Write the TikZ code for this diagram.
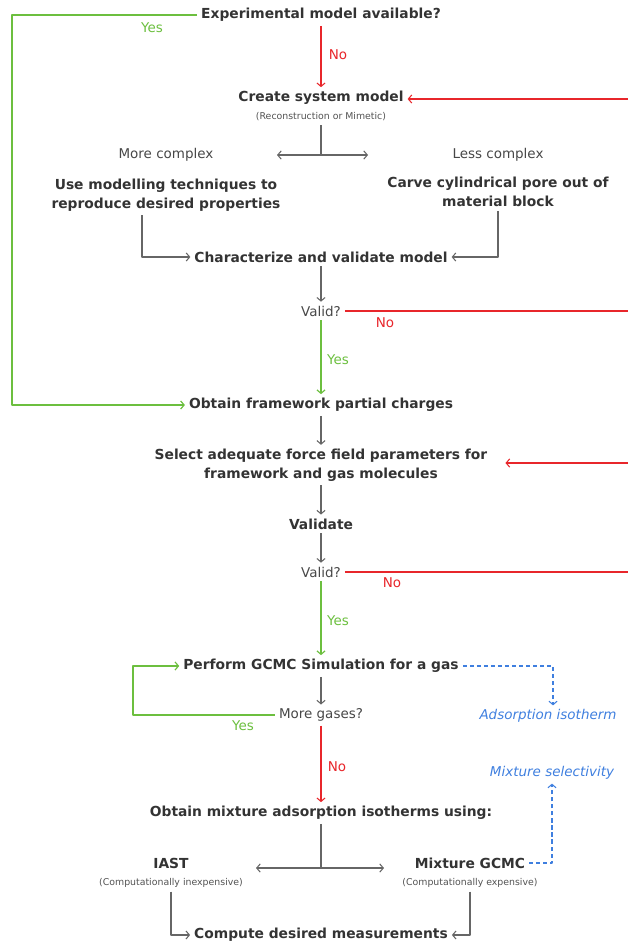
\documentclass[tikz,border=0pt]{standalone}
\usepackage{fontspec}
\setmainfont{DejaVu Sans}
\usetikzlibrary{arrows.meta}
\definecolor{ink}{HTML}{333333}
\definecolor{wire}{HTML}{666666}
\definecolor{okgreen}{HTML}{6CBF3F}
\definecolor{nored}{HTML}{E8262B}
\definecolor{isoblue}{HTML}{3F7FDF}
\begin{document}
\begin{tikzpicture}[>={Straight Barb[length=3pt,width=7pt]}, line join=round, x=.03cm, y=-.03cm, font=\fontsize{11.5}{16}\selectfont,
		every node/.style={text=ink, inner sep=2pt, outer sep=1.5pt},
		task/.style={font=\fontsize{11.8}{16}\selectfont\bfseries, align=center},
		ask/.style={text=ink!90},
		hint/.style={font=\fontsize{8}{10}\selectfont, text=ink!85},
		yes/.style={text=okgreen}, no/.style={text=nored},
		outcome/.style={text=isoblue, font=\fontsize{11.5}{16}\selectfont\itshape},
		flow/.style={draw=wire, line width=.9pt},
		go/.style={draw=okgreen, line width=1pt},
		stop/.style={draw=nored, line width=.9pt},
		feed/.style={draw=isoblue, line width=.9pt, dash pattern=on 3.5pt off 2.5pt}]
	\useasboundingbox (0,0) rectangle (628,945);
	\path
	(321,15) node[task] (expt) {Experimental model available?}
	(321,98) node[task] (create) {Create system model}
	(321,117) node[hint] (recon) {(Reconstruction or Mimetic)}
	(166,155) node[ask] (more) {More complex}
	(498,155) node[ask] (less) {Less complex}
	(166,195) node[task] (usemod) {Use modelling techniques to\\reproduce desired properties}
	(498,192) node[task] (carve) {Carve cylindrical pore out of\\material block}
	(321,257) node[task] (charac) {Characterize and validate model}
	(321,311) node[ask] (valid1) {Valid?}
	(321,405) node[task] (charges) {Obtain framework partial charges}
	(321,465) node[task] (select) {Select adequate force field parameters for\\framework and gas molecules}
	(321,524) node[task] (validate) {Validate}
	(321,572) node[ask] (valid2) {Valid?}
	(321,666) node[task] (gcmc) {Perform GCMC Simulation for a gas}
	(321,715) node[ask] (moregas) {More gases?}
	(548,716) node[outcome] (isotherm) {Adsorption isotherm}
	(552,773) node[outcome] (mixsel) {Mixture selectivity}
	(321,813) node[task] (mixture) {Obtain mixture adsorption isotherms using:}
	(171,863) node[task] (iast) {IAST}
	(171,883) node[hint] (inexp) {(Computationally inexpensive)}
	(470,863) node[task] (mixgcmc) {Mixture GCMC}
	(470,883) node[hint] (exp) {(Computationally expensive)}
	(321,935) node[task] (compute) {Compute desired measurements}
	;
	\path
	(12,15) coordinate (gl)
	(133,715) coordinate (gl2)
	(142,0) coordinate (l1)
	(321,155) coordinate (s1)
	(277,155) coordinate (s1l)
	(368,155) coordinate (s1r)
	(321,868) coordinate (s2)
	(256,868) coordinate (s2l)
	(384,868) coordinate (s2r)
	(553,666) coordinate (b1)
	(628,99) coordinate (r1)
	(628,311) coordinate (r2)
	(628,463) coordinate (r3)
	(628,572) coordinate (r4)
	;
	\path
	(152,28) node[yes] (yes1) {Yes}
	(338,55) node[no] (no1) {No}
	(385,323) node[no] (no2) {No}
	(338,360) node[yes] (yes2) {Yes}
	(392,583) node[no] (no3) {No}
	(338,621) node[yes] (yes3) {Yes}
	(243,726) node[yes] (yes4) {Yes}
	(337,767) node[no] (no4) {No}
	;
	\draw[stop,->] (expt) -- (create);
	\draw[go,->] (expt.west) -- (gl) |- (charges.west);
	\draw[stop,->] (r1) -- (r1 -| create.east);
	\draw[flow] (recon) -- (s1);
	\draw[flow,->] (s1) -- (s1l);
	\draw[flow,->] (s1) -- (s1r);
	\draw[flow,->] (usemod.south -| l1) |- (charac.west);
	\draw[flow,->] (carve) |- (charac.east);
	\foreach \a/\b in {charac/valid1,charges/select,select/validate,validate/valid2,gcmc/moregas}
	\draw[flow,->] (\a) -- (\b);
	\draw[stop] (valid1) -- (r2);
	\draw[go,->] (valid1) -- (charges);
	\draw[stop,->,shorten >=12pt] (r3) -- (r3 -| select.east);
	\draw[stop] (valid2) -- (r4);
	\draw[go,->] (valid2) -- (gcmc);
	\draw[go,->] (moregas.west) -- (gl2) |- (gcmc.west);
	\draw[feed,->] (gcmc.east) -- (b1) -- (b1 |- isotherm.north);
	\draw[stop,->] (moregas) -- (mixture);
	\draw[flow] (mixture) -- (s2);
	\draw[flow,->] (s2) -- (s2l);
	\draw[flow,->] (s2) -- (s2r);
	\draw[feed,->] (mixgcmc.east) -| (mixsel.south);
	\draw[flow,->] (inexp) |- (compute.west);
	\draw[flow,->] (exp) |- (compute.east);
\end{tikzpicture}
\end{document}
